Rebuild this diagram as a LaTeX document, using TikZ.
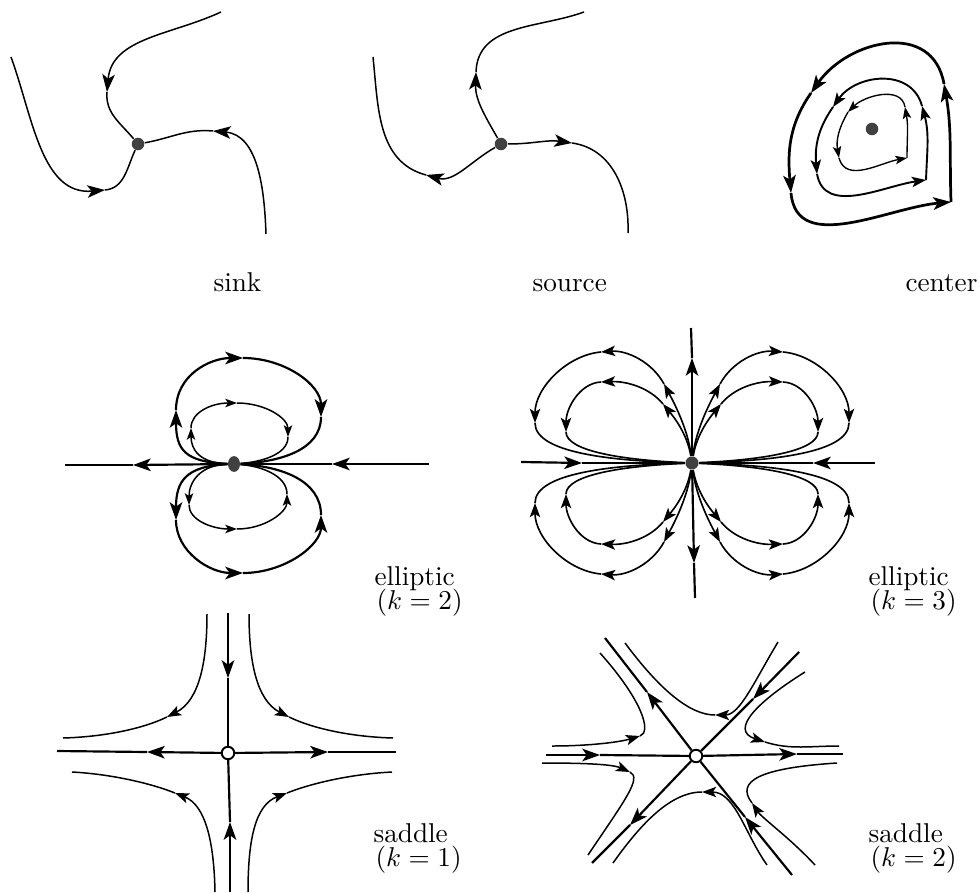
\documentclass[tikz,border=0pt]{standalone}
\usetikzlibrary{arrows.meta,shapes.geometric}
\begin{document}
\begin{tikzpicture}[x=0.3673pt,y=-0.3673pt,
  fl/.style={line width=0.55pt},
  flb/.style={line width=0.8pt},
  A/.style={-{Stealth[length=6.5pt,width=4.6pt,inset=1.6pt]}},
  Am/.style={-{Stealth[length=5.2pt,width=3.8pt,inset=1.2pt]}},
  As/.style={-{Stealth[length=4.3pt,width=3.1pt,inset=1pt]}},
  dot/.style={circle,fill=black!75,inner sep=0pt,minimum size=4.6pt},
  hole/.style={circle,draw,fill=white,line width=0.7pt,inner sep=0pt,minimum size=4.6pt},
  lab/.style={anchor=base west,inner sep=0pt,font=\normalsize}
]
\useasboundingbox (0,0) rectangle (980,892);

% ---------------- sink ----------------
\node[dot] (s1) at (138,144) {};
\coordinate (s1a) at (221,12);
\coordinate (s1b) at (11,57);
\coordinate (s1c) at (266,234);
\draw[fl,A] (s1a) to[out=-155,in=85] (107,92);
\draw[fl] (107,92) to[out=-95,in=130] (s1);
\draw[fl,A] (s1b) to[out=-70,in=-175] (105,190);
\draw[fl] (105,190) to[out=5,in=-115] (s1);
\draw[fl,A] (s1c) to[out=92,in=-5] (213,131);
\draw[fl] (213,131) to[out=175,in=10] (s1);

% ---------------- source ----------------
\node[dot] (s2) at (501,144) {};
\coordinate (s2a) at (584,12);
\coordinate (s2b) at (373,57);
\coordinate (s2c) at (628,233);
\draw[fl,A] (s2) to[out=120,in=-92] (476,72);
\draw[fl] (476,72) to[out=88,in=-160] (s2a);
\draw[fl,A] (s2) to[out=-150,in=-15] (426,175);
\draw[fl] (426,175) to[out=165,in=-84] (s2b);
\draw[fl,A] (s2) to[out=0,in=172] (572,143);
\draw[fl] (572,143) to[out=-8,in=88] (s2c);

% ---------------- center ----------------
\node[dot] (c0) at (872,129) {};
\begin{scope}[line width=1pt]
\draw[A] (951,202) to[out=92,in=-80] (944,84);
\draw[A] (944,84) to[out=100,in=55,looseness=1.25] (811,93);
\draw[A] (811,93) to[out=-125,in=95] (791,193);
\draw[A] (791,193) to[out=-85,in=-175] (951,202);
\end{scope}
\begin{scope}[line width=0.7pt]
\draw[Am] (926,180) to[out=88,in=-75] (922,106);
\draw[Am] (922,106) to[out=105,in=55,looseness=1.15] (833,107);
\draw[Am] (833,107) to[out=-125,in=95] (817,174);
\draw[Am] (817,174) to[out=-80,in=-172] (926,180);
\end{scope}
\begin{scope}[line width=0.5pt]
\draw[As] (907,158) to[out=90,in=-80] (905,107);
\draw[As] (905,107) to[out=100,in=45] (848,112);
\draw[As] (848,112) to[out=-120,in=100] (839,158);
\draw[As] (839,158) to[out=-75,in=-170] (907,158);
\end{scope}

% ---------------- elliptic k=2 ----------------
\node[dot,ellipse,minimum width=4.4pt,minimum height=5.8pt] (e2) at (234,464) {};
\coordinate (e2L) at (65,465);
\coordinate (e2R) at (429,464);
\draw[flb,A] (e2) -- (133,465);
\draw[flb] (133,465) -- (e2L);
\draw[flb,A] (e2R) -- (332,464);
\draw[flb] (332,464) -- (e2);
% upper outer
\draw[flb,A] (e2) .. controls (185,462) and (176,450) .. (176,410);
\draw[flb,A] (176,410) .. controls (176,375) and (210,358) .. (243,358);
\draw[flb,A] (243,358) .. controls (285,358) and (321,385) .. (321,417);
\draw[flb] (321,417) .. controls (321,450) and (280,462) .. (e2);
% upper inner
\draw[fl,As] (e2) .. controls (200,463) and (191,450) .. (191,428);
\draw[fl,As] (191,428) .. controls (191,412) and (212,403) .. (237,403);
\draw[fl,As] (237,403) .. controls (265,403) and (288,418) .. (288,437);
\draw[fl] (288,437) .. controls (288,455) and (260,462) .. (e2);
% lower outer
\draw[flb,A] (e2) .. controls (185,466) and (176,482) .. (176,520);
\draw[flb,A] (176,520) .. controls (176,552) and (210,573) .. (243,573);
\draw[flb,A] (243,573) .. controls (285,573) and (321,545) .. (321,515);
\draw[flb] (321,515) .. controls (321,480) and (280,466) .. (e2);
% lower inner
\draw[fl,As] (e2) .. controls (200,465) and (189,482) .. (189,505);
\draw[fl,As] (189,505) .. controls (189,520) and (212,529) .. (237,529);
\draw[fl,As] (237,529) .. controls (265,529) and (287,512) .. (287,494);
\draw[fl] (287,494) .. controls (287,475) and (260,466) .. (e2);

% ---------------- elliptic k=3 ----------------
\node[dot,minimum size=4.8pt] (e3) at (692,463) {};
\coordinate (e3L) at (521,462);
\coordinate (e3R) at (875,463);
\coordinate (e3T) at (691,328);
\coordinate (e3B) at (695,598);
\draw[flb,A] (e3L) -- (582,463);
\draw[flb] (582,463) -- (e3);
\draw[flb,A] (e3R) -- (813,463);
\draw[flb] (813,463) -- (e3);
\draw[flb,A] (e3) -- (692,358);
\draw[flb] (692,358) -- (e3T);
\draw[flb,A] (e3) -- (694,563);
\draw[flb] (694,563) -- (e3B);
\foreach \sx/\sy in {1/1,-1/1,1/-1,-1/-1}{
\begin{scope}[shift={(692,463)},xscale=\sx,yscale=\sy,line width=0.6pt]
 \draw[Am] (e3) .. controls (4,-35) and (20,-64) .. (28,-79);
 \draw[Am] (28,-79) .. controls (40,-101) and (65,-113) .. (91,-111);
 \draw[Am] (91,-111) .. controls (125,-108) and (157,-75) .. (157,-40);
 \draw (157,-40) .. controls (157,-10) and (80,-2) .. (e3);
 \draw[Am] (e3) .. controls (5,-30) and (19,-47) .. (29,-59);
 \draw[Am] (29,-59) .. controls (42,-75) and (65,-82) .. (91,-81);
 \draw[Am] (91,-81) .. controls (112,-80) and (126,-55) .. (126,-31);
 \draw (126,-31) .. controls (126,-12) and (70,-3) .. (e3);
\end{scope}}

% ---------------- saddle k=1 ----------------
\node[hole] (d1) at (228,753) {};
\coordinate (d1L) at (57,751);
\coordinate (d1R) at (396,752);
\coordinate (d1T) at (228,613);
\coordinate (d1B) at (230,892);
\draw[flb,A] (d1) -- (147,752);
\draw[flb] (147,752) -- (d1L);
\draw[flb,A] (d1) -- (328,752);
\draw[flb] (328,752) -- (d1R);
\draw[flb,A] (d1T) -- (228,678);
\draw[flb] (228,678) -- (d1);
\draw[flb,A] (d1B) -- (230,822);
\draw[flb] (230,822) -- (d1);
\draw[fl,Am] (207,614) .. controls (207,660) and (200,700) .. (167,717);
\draw[fl] (167,717) .. controls (140,730) and (100,737) .. (63,738);
\draw[fl,Am] (249,614) .. controls (249,660) and (256,700) .. (289,717);
\draw[fl] (289,717) .. controls (316,730) and (356,737) .. (393,738);
\draw[fl,Am] (215,892) .. controls (214,840) and (205,805) .. (175,793);
\draw[fl] (175,793) .. controls (150,783) and (110,774) .. (72,772);
\draw[fl,Am] (248,892) .. controls (248,840) and (255,805) .. (287,793);
\draw[fl] (287,793) .. controls (312,783) and (352,774) .. (392,772);

% ---------------- saddle k=2 ----------------
\node[hole] (d2) at (696,756) {};
\coordinate (d2L) at (546,755);
\coordinate (d2R) at (843,754);
\coordinate (d2NW) at (605,638);
\coordinate (d2SE) at (792,875);
\coordinate (d2NE) at (799,652);
\coordinate (d2SW) at (592,863);
\draw[flb,A] (d2L) -- (600,755);
\draw[flb] (600,755) -- (d2);
\draw[flb,A] (d2) -- (797,754);
\draw[flb] (797,754) -- (d2R);
\draw[flb,A] (d2) -- (647,692);
\draw[flb] (647,692) -- (d2NW);
\draw[flb,A] (d2SE) -- (745,817);
\draw[flb] (745,817) -- (d2);
\draw[flb,A] (d2NE) -- (753,699);
\draw[flb] (753,699) -- (d2);
\draw[flb,A] (d2) -- (630,825);
\draw[flb] (630,825) -- (d2SW);
% hyperbolas
\draw[fl,Am] (778,642) .. controls (755,680) and (740,715) .. (715,715);
\draw[fl] (715,715) .. controls (690,715) and (660,690) .. (625,643);
\draw[fl,Am] (805,672) .. controls (760,700) and (728,730) .. (765,742);
\draw[fl] (765,742) .. controls (790,750) and (810,746) .. (839,746);
\draw[fl,Am] (815,865) .. controls (790,838) and (762,818) .. (752,803);
\draw[fl] (752,803) .. controls (735,781) and (760,768) .. (837,763);
\draw[fl,Am] (767,865) .. controls (745,834) and (735,792) .. (702,792);
\draw[fl] (702,792) .. controls (670,792) and (640,825) .. (613,863);
\draw[fl,Am] (542,763) .. controls (580,763) and (612,764) .. (630,772);
\draw[fl] (630,772) .. controls (642,778) and (625,800) .. (588,855);
\draw[fl,Am] (552,746) .. controls (590,746) and (620,742) .. (640,736);
\draw[fl] (640,736) .. controls (652,732) and (642,700) .. (600,653);

% ---------------- labels ----------------
\node[lab] (lsink) at (213,292) {sink};
\node[lab] (lsource) at (532,292) {source};
\node[lab] (lcenter) at (905,292) {center};
\node[lab] (le2a) at (374,585) {elliptic};
\node[lab] (le2b) at (376,609) {$(k=2)$};
\node[lab] (le3a) at (868,585) {elliptic};
\node[lab] (le3b) at (870,609) {$(k=3)$};
\node[lab] (ld1a) at (373,842) {saddle};
\node[lab] (ld1b) at (375,866) {$(k=1)$};
\node[lab] (ld2a) at (868,842) {saddle};
\node[lab] (ld2b) at (870,866) {$(k=2)$};
\end{tikzpicture}
\end{document}
